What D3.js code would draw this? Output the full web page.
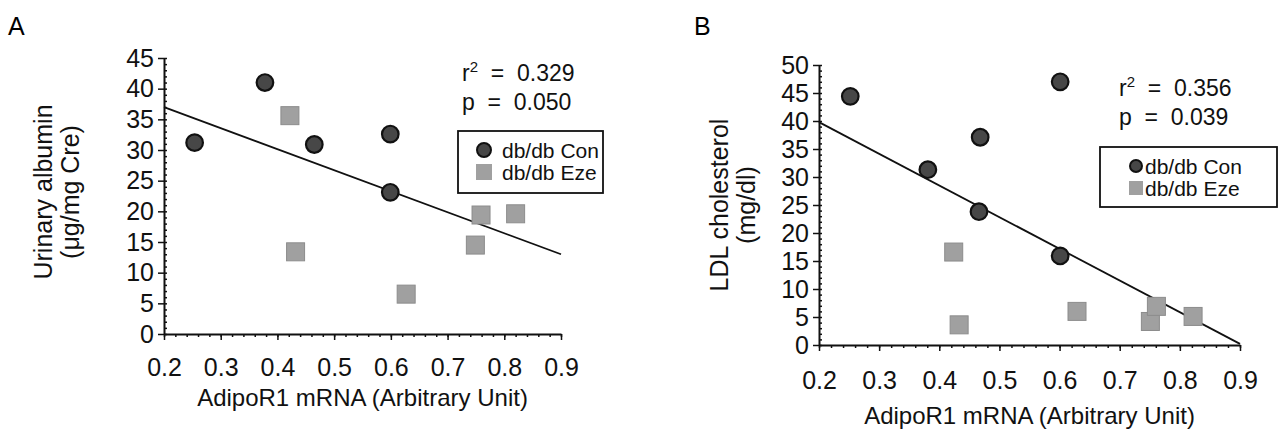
<!DOCTYPE html>
<html>
<head>
<meta charset="utf-8">
<script src="https://cdn.jsdelivr.net/npm/d3@7"></script>
<style>
  body { margin: 0; background: #fff; }
  svg { display: block; font-family: "Liberation Sans", Arial, sans-serif; }
  text { white-space: pre; }
</style>
</head>
<body>
<svg id="chart" width="1279" height="430"></svg>
<script>
// x values shared by both panels: AdipoR1 mRNA
var xTicks = [0.2, 0.3, 0.4, 0.5, 0.6, 0.7, 0.8, 0.9];

// panel A: urinary albumin
var conX_A = [0.254, 0.378, 0.465, 0.599, 0.599];
var conY_A = [31.2, 41.0, 30.9, 32.6, 23.1];
var ezeX_A = [0.422, 0.432, 0.627, 0.749, 0.759, 0.820];
var ezeY_A = [35.6, 13.4, 6.5, 14.5, 19.4, 19.6];
var regA = [37.0, 13.0];          // fit line at x = 0.2 and x = 0.9
var yTicks_A = [0, 5, 10, 15, 20, 25, 30, 35, 40, 45];

// panel B: LDL cholesterol
var conX_B = [0.252, 0.381, 0.468, 0.466, 0.601, 0.601];
var conY_B = [44.4, 31.3, 37.1, 23.8, 47.0, 15.9];
var ezeX_B = [0.424, 0.433, 0.629, 0.751, 0.761, 0.822];
var ezeY_B = [16.6, 3.6, 6.0, 4.2, 6.9, 5.1];
var regB = [39.8, 0.2];
var yTicks_B = [0, 5, 10, 15, 20, 25, 30, 35, 40, 45, 50];

var seriesNames = ["db/db Con", "db/db Eze"];

var svg = d3.select("#chart");

function drawPanel(p) {
    var x = d3.scaleLinear().domain([0.2, 0.9]).range([p.left, p.right]);
    var y = d3.scaleLinear().domain([0, p.ymax]).range([p.bottom, p.top]);
    var g = svg.append("g");

    // panel letter
    g.append("text")
        .attr("x", p.letterX)
        .attr("y", 35)
        .style("font-size", "25px")
        .text(p.letter);

    // minor ticks first, majors on top
    g.append("g")
        .attr("transform", "translate(" + p.left + ",0)")
        .call(d3.axisRight(y).tickValues(d3.range(0, p.ymax + 1, 1)).tickSize(3).tickSizeOuter(0).tickFormat(""))
        .call(function(s) { s.select(".domain").remove(); });
    g.append("g")
        .attr("transform", "translate(0," + p.bottom + ")")
        .call(d3.axisBottom(x).tickValues(d3.range(0.2, 0.9001, 0.02)).tickSize(3).tickSizeOuter(0).tickFormat(""))
        .call(function(s) { s.select(".domain").remove(); });

    g.append("g")
        .attr("transform", "translate(" + p.left + ",0)")
        .call(d3.axisLeft(y).tickValues(p.yTicks).tickSize(6).tickSizeOuter(0).tickPadding(4));
    g.append("g")
        .attr("transform", "translate(0," + p.bottom + ")")
        .call(d3.axisBottom(x).tickValues(xTicks).tickSize(6).tickSizeOuter(0).tickPadding(p.xPad).tickFormat(d3.format(".1f")));

    g.selectAll(".tick line").attr("stroke", "#111").attr("stroke-width", 1.5);
    g.selectAll(".domain").attr("stroke", "#111").attr("stroke-width", 2);
    g.selectAll(".tick text")
        .attr("fill", "#111")
        .style("font-family", "'Liberation Sans', Arial, sans-serif")
        .style("font-size", "25px");

    // axis titles
    g.append("text")
        .attr("x", (p.left + p.right) / 2)
        .attr("y", p.xTitleY)
        .attr("text-anchor", "middle")
        .style("font-size", "24px")
        .attr("fill", "#111")
        .text("AdipoR1 mRNA (Arbitrary Unit)");

    var yt = g.append("text")
        .attr("transform", "translate(" + p.yTitleX + "," + p.yTitleY + ") rotate(-90)")
        .attr("text-anchor", "middle")
        .style("font-size", "25px")
        .attr("fill", "#111");
    yt.append("tspan").attr("x", 0).attr("y", 0).text(p.yTitle[0]);
    yt.append("tspan").attr("x", 0).attr("y", 27).text(p.yTitle[1]);

    // regression line
    g.append("line")
        .attr("x1", x(0.2)).attr("y1", y(p.reg[0]))
        .attr("x2", x(0.9)).attr("y2", y(p.reg[1]))
        .attr("stroke", "#111")
        .attr("stroke-width", 1.8);

    // Eze squares
    var s = 18;
    g.selectAll("rect.eze")
        .data(d3.zip(p.ezeX, p.ezeY))
        .enter()
        .append("rect")
        .attr("class", "eze")
        .attr("x", function(d) { return x(d[0]) - s / 2; })
        .attr("y", function(d) { return y(d[1]) - s / 2; })
        .attr("width", s)
        .attr("height", s)
        .attr("fill", "#a0a0a0")
        .attr("stroke", "#8c8c8c")
        .attr("stroke-width", 1);

    // Con circles
    g.selectAll("circle.con")
        .data(d3.zip(p.conX, p.conY))
        .enter()
        .append("circle")
        .attr("class", "con")
        .attr("cx", function(d) { return x(d[0]); })
        .attr("cy", function(d) { return y(d[1]); })
        .attr("r", 8.3)
        .attr("fill", "#474747")
        .attr("stroke", "#111")
        .attr("stroke-width", 2.2);

    // r2 and p
    var r2 = g.append("text")
        .attr("x", p.statX)
        .attr("y", p.statY[0])
        .style("font-size", "23px")
        .attr("fill", "#111");
    r2.append("tspan").text("r");
    r2.append("tspan").attr("dy", -9).style("font-size", "15px").text("2");
    r2.append("tspan").attr("dy", 9).text("  =  " + p.r2);
    g.append("text")
        .attr("x", p.statX)
        .attr("y", p.statY[1])
        .style("font-size", "23px")
        .attr("fill", "#111")
        .text("p  =  " + p.pval);

    // legend
    var lg = p.legend;
    g.append("rect")
        .attr("x", lg.x).attr("y", lg.y)
        .attr("width", lg.w).attr("height", lg.h)
        .attr("fill", "#fff")
        .attr("stroke", "#111")
        .attr("stroke-width", 1.8);
    g.append("circle")
        .attr("cx", lg.symX).attr("cy", lg.rows[0])
        .attr("r", lg.r)
        .attr("fill", "#474747").attr("stroke", "#111").attr("stroke-width", 2);
    g.append("rect")
        .attr("x", lg.symX - lg.r - 1).attr("y", lg.rows[1] - lg.r - 1)
        .attr("width", 2 * lg.r + 2).attr("height", 2 * lg.r + 2)
        .attr("fill", "#a0a0a0");
    g.selectAll("text.leg")
        .data(seriesNames)
        .enter()
        .append("text")
        .attr("class", "leg")
        .attr("x", lg.textX)
        .attr("y", function(d, i) { return lg.rows[i]; })
        .attr("dy", "0.36em")
        .style("font-size", "21px")
        .attr("fill", "#111")
        .text(function(d) { return d; });
}

drawPanel({
    letter: "A", letterX: 8,
    left: 164, right: 561, top: 58, bottom: 334, ymax: 45, yTicks: yTicks_A, xPad: 18,
    conX: conX_A, conY: conY_A, ezeX: ezeX_A, ezeY: ezeY_A, reg: regA,
    yTitle: ["Urinary albumin", "(\u03bcg/mg Cre)"], yTitleX: 52, yTitleY: 192,
    xTitleY: 406,
    r2: "0.329", pval: "0.050", statX: 462, statY: [81, 110],
    legend: { x: 458, y: 131, w: 145, h: 62, symX: 484, r: 7, textX: 502, rows: [150, 172] }
});

drawPanel({
    letter: "B", letterX: 694,
    left: 819, right: 1240, top: 65, bottom: 345, ymax: 50, yTicks: yTicks_B, xPad: 20,
    conX: conX_B, conY: conY_B, ezeX: ezeX_B, ezeY: ezeY_B, reg: regB,
    yTitle: ["LDL cholesterol", "(mg/dl)"], yTitleX: 728, yTitleY: 205,
    xTitleY: 424,
    r2: "0.356", pval: "0.039", statX: 1119, statY: [96, 125],
    legend: { x: 1100, y: 147, w: 177, h: 60, symX: 1136, r: 6, textX: 1145, rows: [166, 188] }
});
</script>
</body>
</html>
